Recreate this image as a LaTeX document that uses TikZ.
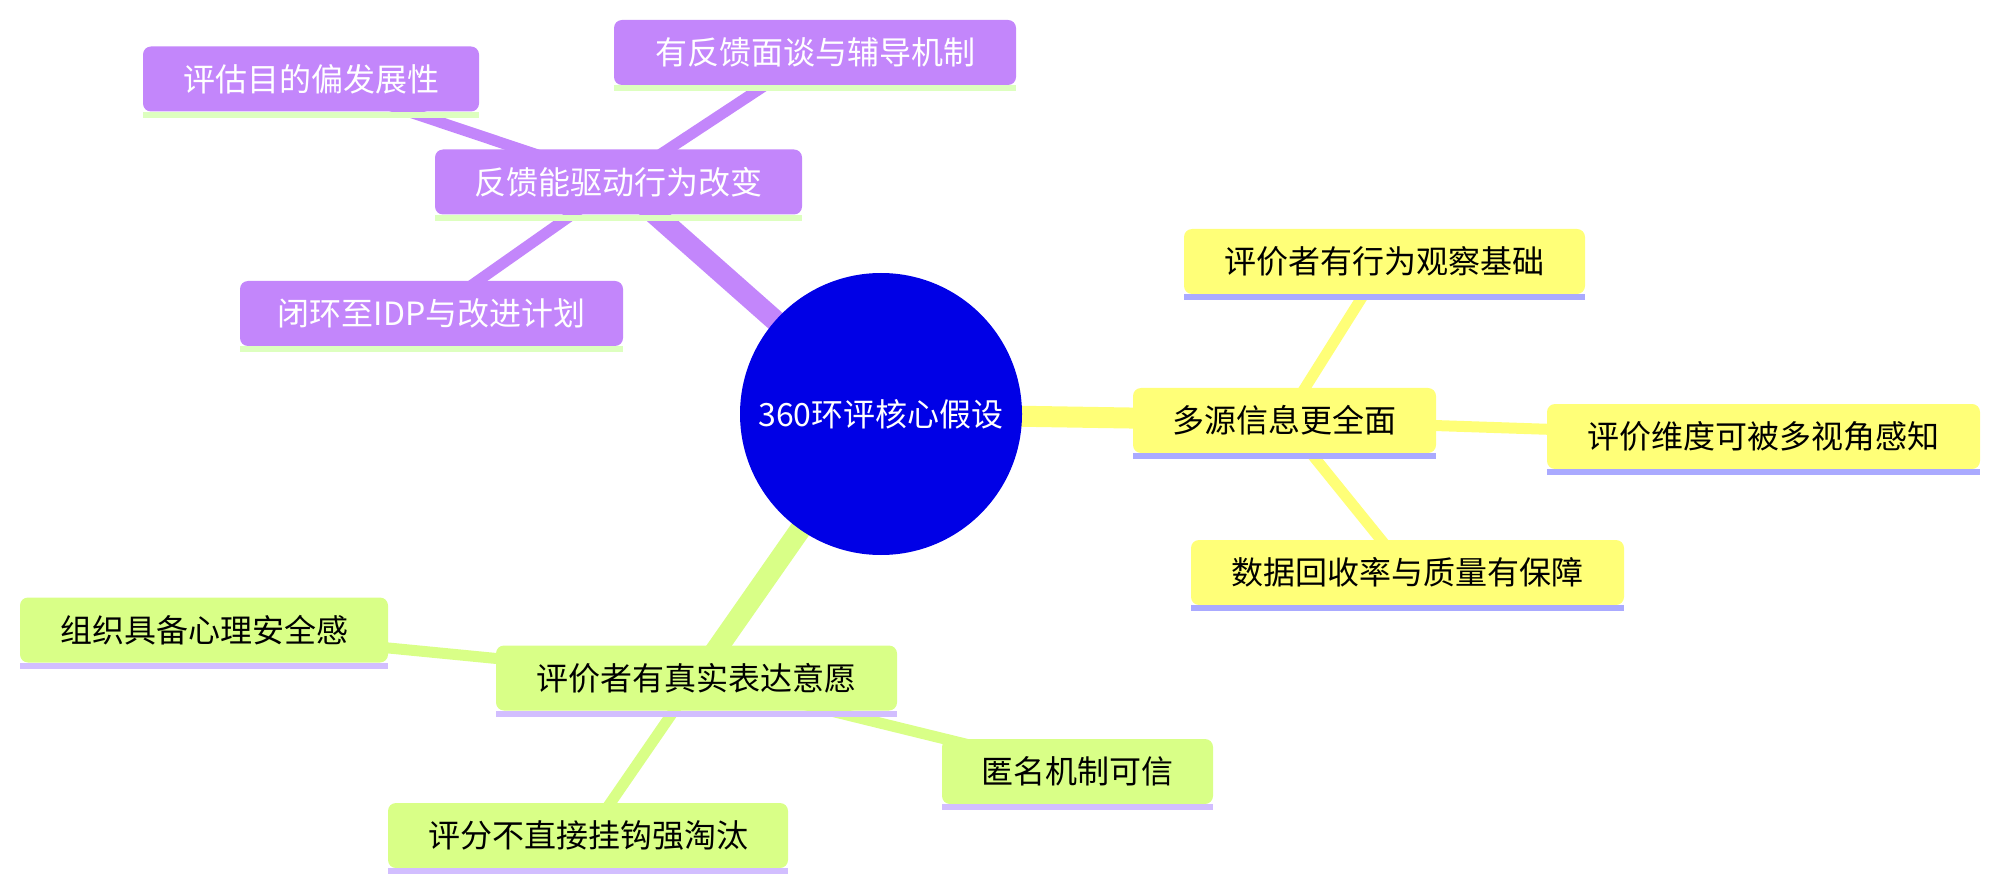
\documentclass[tikz,border=0pt]{standalone}
\usepackage{fontspec}
\setmainfont{Noto Sans CJK SC}
\usetikzlibrary{backgrounds}
\definecolor{rootblue}{RGB}{0,0,230}
\definecolor{purp}{RGB}{195,134,251}
\definecolor{yell}{RGB}{255,255,120}
\definecolor{gree}{RGB}{217,255,135}
\definecolor{purpstrip}{RGB}{221,255,191}
\definecolor{yellstrip}{RGB}{170,170,255}
\definecolor{greestrip}{RGB}{210,190,255}
\newcommand\mystrip[2]{\fill[#2] (#1.south west) rectangle ([yshift=-6pt]#1.south east);}
\tikzset{
  mmbox/.style={rounded corners=8pt, minimum height=65pt, inner xsep=0pt, inner ysep=0pt, anchor=center},
  pbox/.style={mmbox, fill=purp, text=white},
  ybox/.style={mmbox, fill=yell, text=black},
  gbox/.style={mmbox, fill=gree, text=black},
  mainedge/.style={line width=21pt},
  subedge/.style={line width=11pt},
}
\begin{document}
\begin{tikzpicture}[x=1pt,y=-1pt,font=\fontsize{32}{38}\selectfont]
\useasboundingbox (0,0) rectangle (1997,890);
% root
\node[circle, fill=rootblue, text=white, minimum size=282pt, inner sep=0pt] (root) at (881,414) {360环评核心假设};
% purple section
\node[pbox, minimum width=367pt] (p0) at (618.5,182) {反馈能驱动行为改变};
\node[pbox, minimum width=336pt] (p1) at (311,79) {评估目的偏发展性};
\node[pbox, minimum width=402pt] (p2) at (815,52.5) {有反馈面谈与辅导机制};
\node[pbox, minimum width=383pt] (p3) at (431.5,313.5) {闭环至IDP与改进计划};
% yellow section
\node[ybox, minimum width=303pt] (y0) at (1284.5,420.5) {多源信息更全面};
\node[ybox, minimum width=401pt] (y1) at (1384.5,261.5) {评价者有行为观察基础};
\node[ybox, minimum width=433pt] (y2) at (1763.5,436.5) {评价维度可被多视角感知};
\node[ybox, minimum width=433pt] (y3) at (1407.5,572.5) {数据回收率与质量有保障};
% green section
\node[gbox, minimum width=401pt] (g0) at (696.5,678) {评价者有真实表达意愿};
\node[gbox, minimum width=368pt] (g1) at (204,630) {组织具备心理安全感};
\node[gbox, minimum width=271pt] (g2) at (1077.5,771.5) {匿名机制可信};
\node[gbox, minimum width=400pt] (g3) at (588,835.5) {评分不直接挂钩强淘汰};
% strips
\mystrip{p0}{purpstrip}\mystrip{p1}{purpstrip}\mystrip{p2}{purpstrip}\mystrip{p3}{purpstrip}
\mystrip{y0}{yellstrip}\mystrip{y1}{yellstrip}\mystrip{y2}{yellstrip}\mystrip{y3}{yellstrip}
\mystrip{g0}{greestrip}\mystrip{g1}{greestrip}\mystrip{g2}{greestrip}\mystrip{g3}{greestrip}
% edges
\begin{pgfonlayer}{background}
\draw[mainedge, purp] (root.center) -- (p0.center);
\draw[mainedge, yell] (root.center) -- (y0.center);
\draw[mainedge, gree] (root.center) -- (g0.center);
\draw[subedge, purp] (p0.center) -- (p1.center);
\draw[subedge, purp] (p0.center) -- (p2.center);
\draw[subedge, purp] (p0.center) -- (p3.center);
\draw[subedge, yell] (y0.center) -- (y1.center);
\draw[subedge, yell] (y0.center) -- (y2.center);
\draw[subedge, yell] (y0.center) -- (y3.center);
\draw[subedge, gree] (g0.center) -- (g1.center);
\draw[subedge, gree] (g0.center) -- (g2.center);
\draw[subedge, gree] (g0.center) -- (g3.center);
\end{pgfonlayer}
\end{tikzpicture}
\end{document}
